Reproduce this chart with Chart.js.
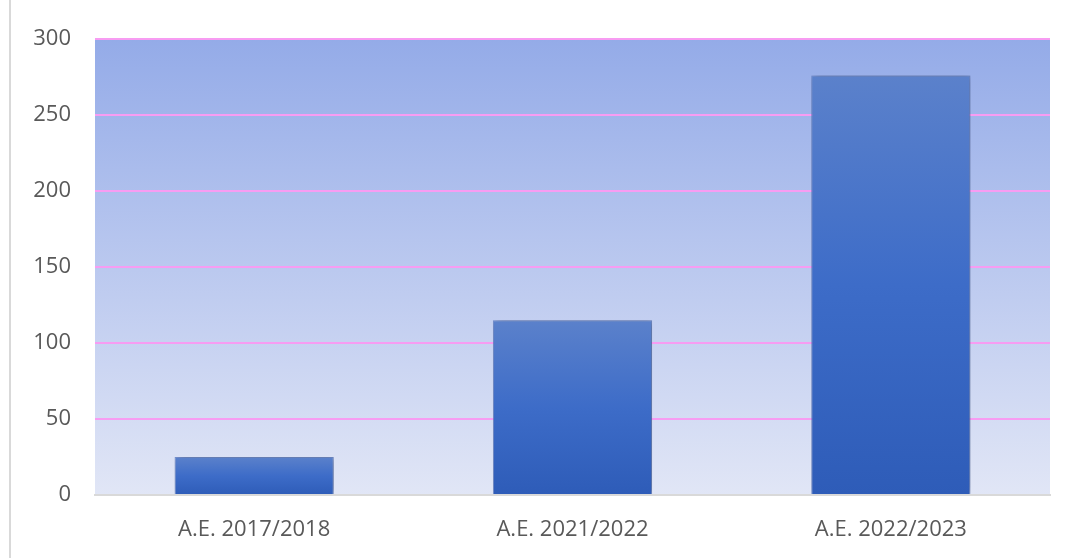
<!DOCTYPE html>
<html>
<head>
<meta charset="utf-8">
<script src="https://cdn.jsdelivr.net/npm/chart.js@4"></script>
<style>
  html, body { margin: 0; padding: 0; background: #fff; }
  #wrap { position: relative; width: 1071px; height: 558px; }
  #edge { position: absolute; left: 9px; top: 0; width: 2px; height: 558px; background: #d9d9d9; }
</style>
</head>
<body>
<div id="wrap">
  <div id="edge"></div>
  <canvas id="myChart" width="1071" height="558"></canvas>
</div>
<script>
// data
var categories = ['A.E. 2017/2018', 'A.E. 2021/2022', 'A.E. 2022/2023'];
var values = [25, 115, 276];
var yTicks = [0, 50, 100, 150, 200, 250, 300];

// plot area background gradient
const bgPlugin = {
  id: 'plotBg',
  beforeDraw(chart) {
    const a = chart.chartArea;
    if (!a) return;
    const c = chart.ctx;
    const g = c.createLinearGradient(0, a.top, 0, a.bottom);
    g.addColorStop(0, '#94abe8');
    g.addColorStop(1, '#e1e6f6');
    c.save();
    c.fillStyle = g;
    c.fillRect(a.left, a.top, a.right - a.left, a.bottom - a.top);
    c.restore();
  }
};

// soft shadow for the bars
const shadowPlugin = {
  id: 'barShadow',
  beforeDatasetDraw(chart) {
    const c = chart.ctx;
    c.save();
    c.shadowColor = 'rgba(0,0,0,0.35)';
    c.shadowBlur = 8;
    c.shadowOffsetX = 2;
    c.shadowOffsetY = 0;
  },
  afterDatasetDraw(chart) {
    chart.ctx.restore();
  }
};

function barFill(context) {
  const chart = context.chart;
  if (!chart.chartArea) return '#3d6cc6';
  const ys = chart.scales.y;
  const top = ys.getPixelForValue(context.raw);
  const bottom = ys.getPixelForValue(0);
  const g = chart.ctx.createLinearGradient(0, top, 0, bottom);
  g.addColorStop(0, '#5b81cb');
  g.addColorStop(0.5, '#3d6cc8');
  g.addColorStop(1, '#2e5cb8');
  return g;
}

const ctx = document.getElementById('myChart');

new Chart(ctx, {
  type: 'bar',
  data: {
    labels: categories,
    datasets: [{
      data: values,
      backgroundColor: barFill,
      borderColor: 'rgba(110,140,210,0.9)',
      borderWidth: 1,
      borderSkipped: 'bottom',
      categoryPercentage: 1,
      barPercentage: 0.5
    }]
  },
  options: {
    responsive: false,
    animation: false,
    layout: { padding: { top: 39, right: 21, left: 0, bottom: 0 } },
    plugins: {
      legend: { display: false },
      tooltip: { enabled: false }
    },
    scales: {
      x: {
        grid: { display: false, drawTicks: false },
        border: { display: true, color: '#d9d9d9', width: 2 },
        ticks: {
          color: '#595959',
          padding: 22,
          font: { family: 'Open Sans', size: 22 }
        },
        afterFit(scale) { scale.height = 63; }
      },
      y: {
        min: 0,
        max: 300,
        afterBuildTicks(scale) { scale.ticks = yTicks.map(v => ({ value: v })); },
        grid: { color: '#f79cf2', lineWidth: 2, drawTicks: false },
        border: { display: false },
        ticks: {
          color: '#595959',
          padding: 24,
          font: { family: 'Open Sans', size: 22 }
        },
        afterFit(scale) { scale.width = 95; }
      }
    }
  },
  plugins: [bgPlugin, shadowPlugin]
});
</script>
</body>
</html>
